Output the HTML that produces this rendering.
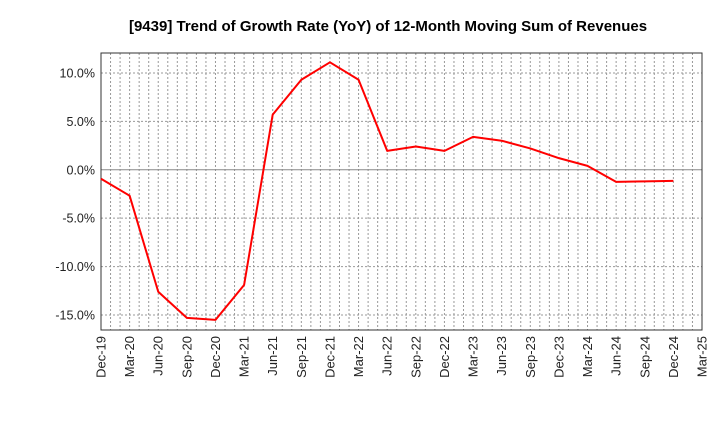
<!DOCTYPE html>
<html><head><meta charset="utf-8"><style>
body{margin:0;background:#fff;font-family:"Liberation Sans",sans-serif}
</style></head><body>
<svg id="chart" width="720" height="440" xmlns="http://www.w3.org/2000/svg" font-family="Liberation Sans, sans-serif">
<text x="388" y="31" text-anchor="middle" font-size="15" font-weight="bold" fill="#000">[9439]  Trend of Growth Rate (YoY) of 12-Month Moving Sum of Revenues</text>
<g id="grid"></g><g id="axes"></g><g id="series"></g>
</svg>
<script>
const categories=["Dec-19","Mar-20","Jun-20","Sep-20","Dec-20","Mar-21","Jun-21","Sep-21","Dec-21","Mar-22","Jun-22","Sep-22","Dec-22","Mar-23","Jun-23","Sep-23","Dec-23","Mar-24","Jun-24","Sep-24","Dec-24","Mar-25"];
const values=[-0.93,-2.68,-12.6,-15.3,-15.5,-11.9,5.7,9.3,11.1,9.3,1.95,2.4,1.95,3.4,3.0,2.2,1.2,0.4,-1.25,-1.2,-1.15];
const yTicks=[10,5,0,-5,-10,-15];
const yTickLabels=["10.0%","5.0%","0.0%","-5.0%","-10.0%","-15.0%"];
const L=101,R=702,T=53,B=330,yMin=-16.55,yMax=12.06;
const NS="http://www.w3.org/2000/svg";
const xs=i=>L+(R-L)*i/(categories.length-1);
const ys=v=>B-(v-yMin)/(yMax-yMin)*(B-T);
function mk(t,a,p){const e=document.createElementNS(NS,t);for(const k in a)e.setAttribute(k,a[k]);p.appendChild(e);return e;}
const g=document.getElementById('grid'),ax=document.getElementById('axes'),s=document.getElementById('series');
const nm=(categories.length-1)*3;
for(let m=1;m<nm;m++){const x=L+(R-L)*m/nm;const e=mk('line',{x1:x,x2:x,y1:T,y2:B,stroke:'#999','stroke-dasharray':'2,2','stroke-width':1},g);

}
yTicks.forEach((v,i)=>{const y=ys(v);
const e=mk('line',{x1:L,x2:R,y1:y,y2:y,stroke:v===0?'#888':'#999','stroke-dasharray':v===0?'none':'2,2','stroke-width':1},g);


const t=mk('text',{x:L-6,y:y+4.5,'text-anchor':'end','font-size':12.5,fill:'#222'},ax);t.textContent=yTickLabels[i];

});
const fr=mk('rect',{x:L,y:T,width:R-L,height:B-T,fill:'none',stroke:'#333','stroke-width':1},ax);


categories.forEach((c,i)=>{const x=xs(i);
const t=mk('text',{x:x+4.5,y:B+6,'text-anchor':'end','font-size':13,fill:'#222',transform:`rotate(-90 ${x+4.5} ${B+6})`},ax);t.textContent=c;

});
const p=mk('polyline',{points:values.map((v,i)=>xs(i)+','+ys(v)).join(' '),fill:'none',stroke:'#f00','stroke-width':2,'stroke-linejoin':'round'},s);


</script>
</body></html>
